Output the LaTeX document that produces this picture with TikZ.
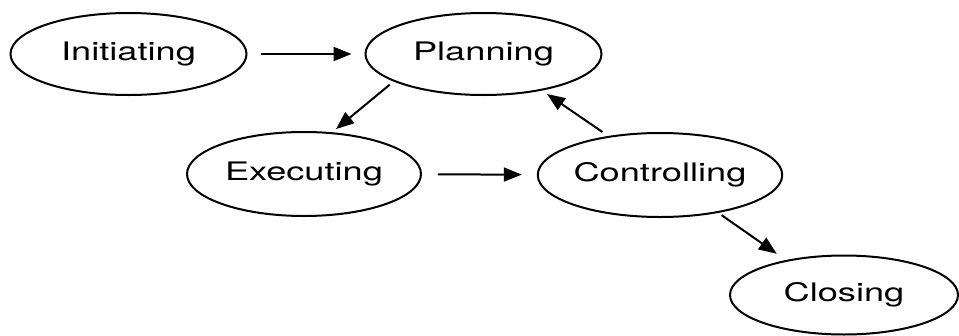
\documentclass[tikz,border=0pt]{standalone}
\usepackage{fontspec}
\setmainfont{TeX Gyre Heros}
\usetikzlibrary{shapes.geometric,arrows.meta}
\tikzset{
  phase/.style={ellipse, draw=black, line width=2pt, inner sep=0pt,
    minimum width=236pt, minimum height=82pt,
    font=\fontsize{25.5}{30}\selectfont},
  arr/.style={line width=2pt, -{Triangle[length=18pt,width=14pt]}}
}
\newcommand{\wide}[1]{\scalebox{1.42}[1]{#1}}
\begin{document}
\begin{tikzpicture}[x=1pt,y=-1pt]
\useasboundingbox (0,0) rectangle (959,335);
\node[phase] (init) at (128.5,54) {\wide{Initiating}};
\node[phase] (plan) at (483.5,54) {\wide{Planning}};
\node[phase, minimum width=234pt, minimum height=84pt] (exec) at (304,174) {\wide{Executing}};
\node[phase, minimum width=236pt, minimum height=84pt] (ctrl) at (660,175) {\wide{Controlling}};
\node[phase, minimum width=228pt, minimum height=79pt] (clos) at (844,295) {\wide{Closing}};
\draw[arr, shorten <=13pt, shorten >=13pt] (init) -- (plan);
\draw[arr, shorten <=16pt, shorten >=15pt] (exec) -- (ctrl);
\draw[arr, shorten <=5pt, shorten >=5pt] (plan.197.85) -- (exec.56.5);
\draw[arr, shorten <=7pt, shorten >=6pt] (ctrl.143.5) -- (plan.328.9);
\draw[arr, shorten <=4pt, shorten >=11pt] (ctrl.327.1) -- (clos.149.1);
\end{tikzpicture}
\end{document}
